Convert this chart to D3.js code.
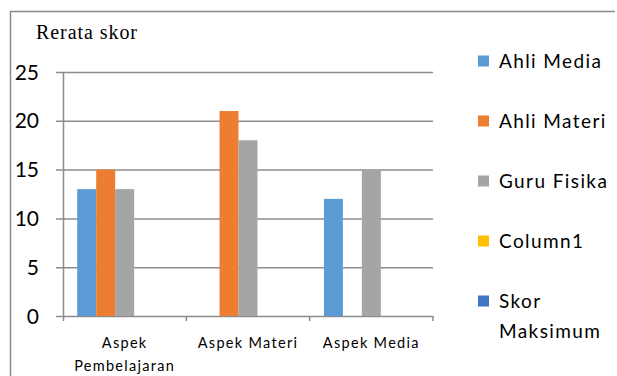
<!DOCTYPE html>
<html><head><meta charset="utf-8">
<script src="https://cdn.jsdelivr.net/npm/d3@7"></script>
<style>html,body{margin:0;padding:0;background:#fff;}svg{display:block;}</style>
</head><body>
<script>
const categories = ["Aspek Pembelajaran", "Aspek Materi", "Aspek Media"];
const seriesNames = ["Ahli Media", "Ahli Materi", "Guru Fisika", "Column1", "Skor Maksimum"];
const ahliMedia = [13, null, 12];
const ahliMateri = [15, 21, null];
const guruFisika = [13, 18, 15];
const column1 = [null, null, null];
const skorMaksimum = [null, null, null];
const yTicks = [0, 5, 10, 15, 20, 25];
const colors = ["#5B9BD5", "#ED7D31", "#A5A5A5", "#FFC000", "#4472C4"];
const seriesValues = [ahliMedia, ahliMateri, guruFisika, column1, skorMaksimum];

const W = 617, H = 376;
const svg = d3.select("body").append("svg").attr("width", W).attr("height", H);
const bodyFont = "Lato, 'Open Sans', sans-serif";

// outer frame
svg.append("path").attr("d", "M10.5,376 L10.5,11.5 L615,11.5")
  .attr("fill", "none").attr("stroke", "#8a8a8a").attr("stroke-width", 1.5);

const x0 = 63, x1 = 433, yTop = 72, yBot = 316;
const x = d3.scaleBand().domain(categories).range([x0, x1]).paddingInner(0).paddingOuter(0);
const y = d3.scaleLinear().domain([0, 25]).range([yBot, yTop]);

// gridlines
svg.append("g").selectAll("line").data(yTicks).join("line")
  .attr("x1", 56).attr("x2", x1).attr("y1", d => y(d) + 0.5).attr("y2", d => y(d) + 0.5)
  .attr("stroke", "#8c8c8c").attr("stroke-width", 1.5);

// y axis labels
svg.append("g").selectAll("text").data(yTicks).join("text")
  .attr("x", 39).attr("y", d => y(d)).attr("dy", "0.36em")
  .attr("text-anchor", "end").attr("font-family", bodyFont).attr("font-size", 21)
  .attr("fill", "#000").text(d => d);

// bars (Excel clustered, gap width 150%)
const groups = svg.append("g").selectAll("g").data(categories).join("g")
  .attr("transform", d => `translate(${x(d)},0)`);
groups.each(function(cat, ci) {
  const bw = x.bandwidth() / (seriesNames.length + 1.5);
  const off = bw * 0.75;
  d3.select(this).selectAll("rect")
    .data(seriesValues.map((s, si) => ({ v: s[ci], si })).filter(d => d.v != null))
    .join("rect")
    .attr("x", d => off + d.si * bw)
    .attr("width", bw)
    .attr("y", d => y(d.v))
    .attr("height", d => y(0) - y(d.v))
    .attr("fill", d => colors[d.si]);
});

// y axis line
svg.append("line").attr("x1", x0 + 0.5).attr("x2", x0 + 0.5).attr("y1", yTop).attr("y2", yBot + 5)
  .attr("stroke", "#8c8c8c").attr("stroke-width", 1.5);
// x axis category ticks
const xt = categories.map(c => x(c) + x.bandwidth());
svg.append("g").selectAll("line").data(xt).join("line")
  .attr("x1", d => d).attr("x2", d => d).attr("y1", yBot).attr("y2", yBot + 5)
  .attr("stroke", "#8c8c8c").attr("stroke-width", 1.5);

// x labels
const xLabelLines = [["Aspek", "Pembelajaran"], ["Aspek Materi"], ["Aspek Media"]];
svg.append("g").selectAll("text").data(categories).join("text")
  .attr("text-anchor", "middle").attr("font-family", bodyFont).attr("font-size", 14.5)
  .attr("letter-spacing", 1.3).attr("fill", "#000")
  .each(function(d, i) {
    d3.select(this).selectAll("tspan").data(xLabelLines[i]).join("tspan")
      .attr("x", x(d) + x.bandwidth() / 2)
      .attr("y", (t, j) => 348 + j * 23).text(t => t);
  });

// title
svg.append("text").attr("x", 36).attr("y", 39)
  .attr("font-family", "'Liberation Serif', 'Times New Roman', serif").attr("font-size", 20)
  .attr("textLength", 101).attr("lengthAdjust", "spacing")
  .attr("fill", "#000").text("Rerata skor");

// legend
const legend = svg.append("g").selectAll("g").data(seriesNames).join("g")
  .attr("transform", (d, i) => `translate(478,${61 + i * 60})`);
legend.append("rect").attr("x", 0).attr("y", -5.5).attr("width", 11).attr("height", 11)
  .attr("fill", (d, i) => colors[i]);
legend.append("text").attr("x", 21).attr("font-family", bodyFont).attr("font-size", 19)
  .attr("letter-spacing", 1.4).attr("fill", "#000")
  .each(function(d) {
    const parts = d === "Skor Maksimum" ? ["Skor", "Maksimum"] : [d];
    d3.select(this).selectAll("tspan").data(parts).join("tspan")
      .attr("x", 21).attr("y", (t, j) => j * 30).attr("dy", "0.36em").text(t => t);
  });
</script>
</body></html>
